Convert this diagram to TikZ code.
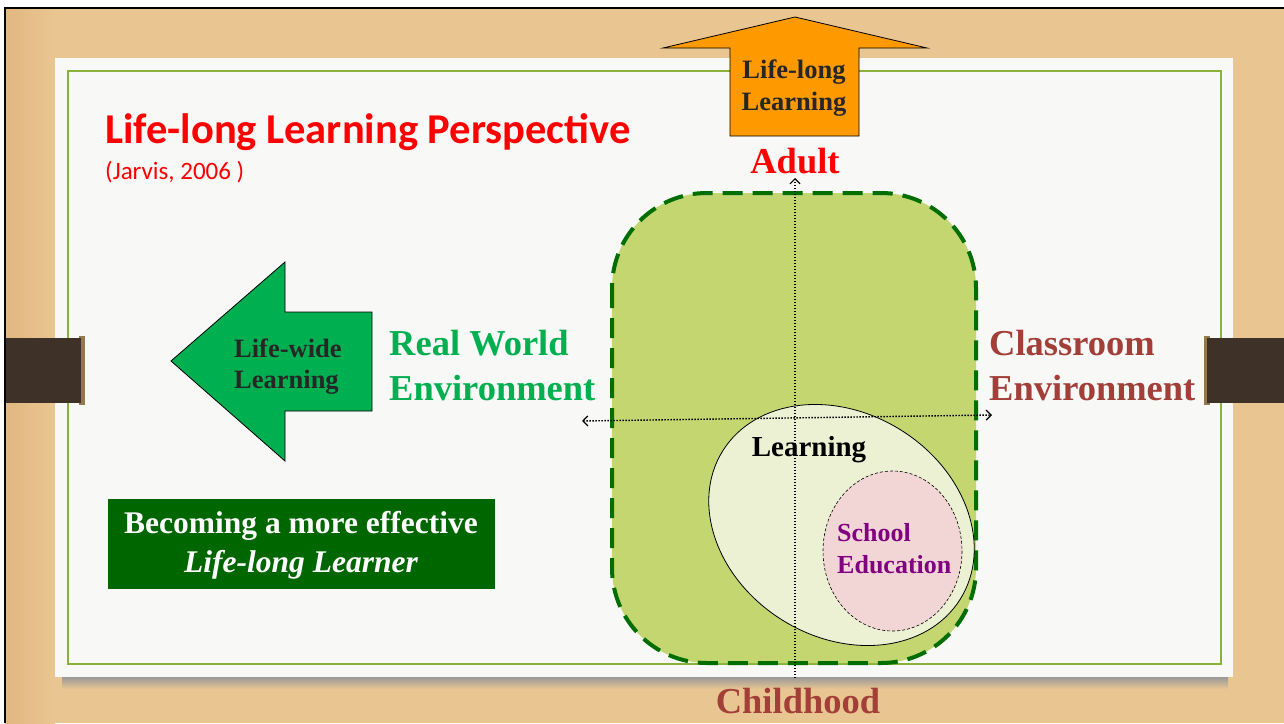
\documentclass[tikz,border=0pt]{standalone}
\usepackage{fontspec}
\setmainfont{Liberation Serif}
\newfontfamily\calib{Carlito}
\usetikzlibrary{arrows.meta,shapes.geometric}
\definecolor{wood}{RGB}{233,198,145}
\definecolor{wooddark}{RGB}{226,182,128}
\definecolor{paper}{RGB}{248,248,247}
\definecolor{framegreen}{RGB}{138,178,58}
\definecolor{boxfill}{RGB}{195,214,112}
\definecolor{dashgreen}{RGB}{0,110,0}
\definecolor{learnfill}{RGB}{235,241,210}
\definecolor{pinkfill}{RGB}{242,213,213}
\definecolor{schoolpurple}{RGB}{128,0,128}
\definecolor{orangefill}{RGB}{255,153,0}
\definecolor{arrowgreen}{RGB}{0,176,80}
\definecolor{boxgreen}{RGB}{0,102,0}
\definecolor{brownred}{RGB}{162,63,56}
\definecolor{clipbrown}{RGB}{62,50,40}
\definecolor{cliprim}{RGB}{150,120,80}
\tikzset{
  bigtxt/.style={inner sep=0pt, font=\bfseries\fontsize{36.5}{40}\selectfont},
  midtxt/.style={inner sep=0pt, font=\bfseries\fontsize{26.5}{31}\selectfont},
  axisline/.style={line width=1.4pt, dash pattern=on 1.4pt off 1.6pt, black},
  clipbox/.style={fill=clipbrown},
}
\begin{document}
\begin{tikzpicture}[x=1pt,y=-1pt]
\useasboundingbox (0,0) rectangle (1284,723);
% background
\fill[white] (0,0) rectangle (1284,723);
\fill[wood] (5,8) rectangle (1284,723);
\fill[left color=wooddark, right color=wood] (5,8) rectangle (55,723);
\draw[black, line width=2pt] (5,723) -- (5,8) -- (1284,8);
% paper shadow
\fill[top color=black!40, bottom color=wood] (62,677) rectangle (1228,689);
% paper
\fill[paper] (55,58) rectangle (1233,677);
\draw[framegreen, line width=2pt] (68,71) rectangle (1221,664);
% clips
\fill[cliprim] (79,336) rectangle (85,405);
\fill[clipbox] (6,338) rectangle (81,403);
\fill[cliprim] (1204,336) rectangle (1210,405);
\fill[clipbox] (1207,338) rectangle (1284,403);
% title
\node[anchor=base west, inner sep=0pt, text=red, font=\calib\bfseries\fontsize{42.5}{46}\selectfont] (title) at (105,143) {Life-long Learning Perspective};
\node[anchor=base west, inner sep=0pt, text=red, font=\calib\fontsize{25}{28}\selectfont] (cite) at (105,179) {(Jarvis, 2006 )};
% orange up arrow
\draw[fill=orangefill, draw=black, line width=0.8pt] (795,17) -- (927,48) -- (859,48) -- (859,136) -- (730,136) -- (730,48) -- (663,48) -- cycle;
\node[midtxt, anchor=base, text=black!85] (ll1) at (794,78) {Life-long};
\node[midtxt, anchor=base, text=black!85] (ll2) at (794,110) {Learning};
% green left arrow
\draw[fill=arrowgreen, draw=black, line width=0.8pt] (171,361) -- (285,262) -- (285,312) -- (372,312) -- (372,411) -- (285,411) -- (285,461) -- cycle;
\node[midtxt, anchor=base west, text=black!85] (lw1) at (234,357) {Life-wide};
\node[midtxt, anchor=base west, text=black!85] (lw2) at (234,388) {Learning};
% labels
\node[bigtxt, anchor=base, text=red] (adult) at (795,173) {Adult};
\node[bigtxt, anchor=base, text=brownred] (child) at (798,713) {Childhood};
\node[bigtxt, anchor=base west, text=arrowgreen] (rw1) at (389,355) {Real World};
\node[bigtxt, anchor=base west, text=arrowgreen] (rw2) at (389,400) {Environment};
\node[bigtxt, anchor=base west, text=brownred] (ce1) at (989,355) {Classroom};
\node[bigtxt, anchor=base west, text=brownred] (ce2) at (989,400) {Environment};
% becoming box
\fill[boxgreen] (108,499) rectangle (495,589);
\node[anchor=base, inner sep=0pt, text=white, font=\bfseries\fontsize{31.5}{36}\selectfont] (bec1) at (301,533) {Becoming a more effective};
\node[anchor=base, inner sep=0pt, text=white, font=\bfseries\itshape\fontsize{31.5}{36}\selectfont] (bec2) at (301,572) {Life-long Learner};
% rounded dashed region
\draw[dashgreen, fill=boxfill, line width=4pt, dash pattern=on 20pt off 10pt, rounded corners=95pt] (612,193) rectangle (976,663);
% learning ellipse
\draw[fill=learnfill, draw=black, line width=0.8pt] (841.5,525) ellipse [x radius=140, y radius=112, rotate=-32];
% school
\draw[fill=pinkfill, draw=black, line width=0.6pt, dash pattern=on 3pt off 2pt] (892.5,551) ellipse [x radius=69.5, y radius=80];
\node[anchor=base west, inner sep=0pt, text=schoolpurple, font=\bfseries\fontsize{26}{30}\selectfont] (sch1) at (837,541) {School};
\node[anchor=base west, inner sep=0pt, text=schoolpurple, font=\bfseries\fontsize{26}{30}\selectfont] (sch2) at (837,573) {Education};
% axes
\coordinate (vb) at (795,678);
\coordinate (vt) at (795,178);
\coordinate (hl) at (582,421);
\coordinate (hr) at (992,415);
\draw[axisline, -{Straight Barb[length=5pt,width=10pt,line width=1.2pt]}] (vb) -- (vt);
\draw[axisline, {Straight Barb[length=5pt,width=10pt,line width=1.2pt]}-{Straight Barb[length=5pt,width=10pt,line width=1.2pt]}] (hl) -- (hr);
\node[anchor=base, inner sep=0pt, font=\bfseries\fontsize{29}{33}\selectfont] (learn) at (809,456) {Learning};
\end{tikzpicture}
\end{document}
